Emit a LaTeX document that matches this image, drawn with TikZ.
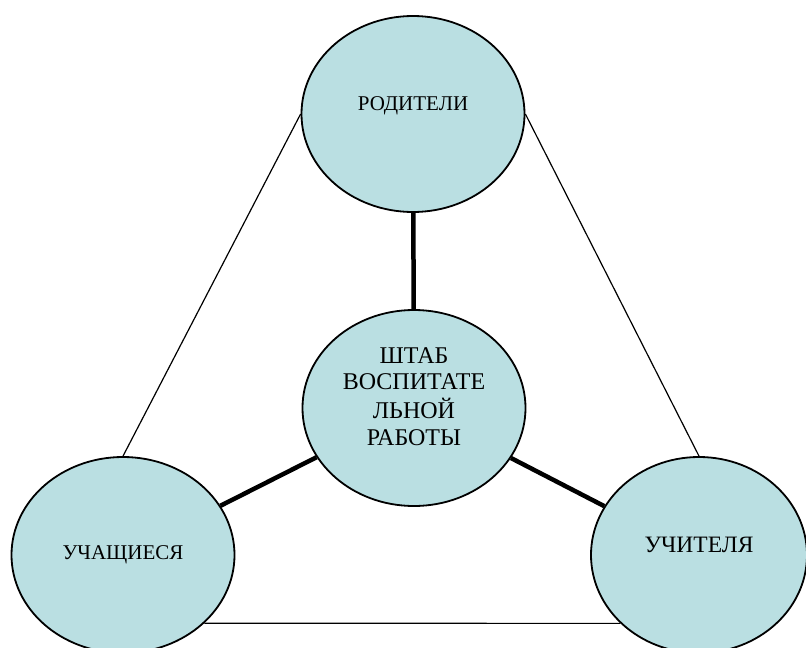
\documentclass[tikz,border=0pt]{standalone}
\usepackage{fontspec}
\setmainfont{Liberation Serif}
\usepackage{tikz}
\usetikzlibrary{shapes.geometric}
\definecolor{circfill}{RGB}{186,223,226}

\begin{document}
\begin{tikzpicture}[x=1pt,y=-1pt,
  circ/.style={ellipse,draw,line width=1.8pt,fill=circfill,inner sep=0pt,
    minimum width=223pt,minimum height=196pt,font=\fontsize{21}{26}\selectfont,align=center},
  thin/.style={line width=1.2pt},
  thick/.style={line width=4.5pt}]
\useasboundingbox (0,0) rectangle (806,648);
\node[circ] (parents) at (413,114) {\raisebox{20pt}{РОДИТЕЛИ}};
\node[circ,font=\fontsize{24}{26.8}\selectfont] (staff) at (414,408)
  {\smash{\raisebox{3pt}{\begin{tabular}{@{}c@{}}ШТАБ\\ВОСПИТАТЕ\\ЛЬНОЙ\\РАБОТЫ\end{tabular}}}};
\node[circ] (pupils) at (123,555) {УЧАЩИЕСЯ};
\node[circ,minimum width=216pt,font=\fontsize{23.5}{26}\selectfont] (teachers) at (699,555) {\raisebox{20pt}{УЧИТЕЛЯ}};
% links
\draw[thin] (parents.west) -- (pupils.north);
\draw[thin] (parents.east) -- (teachers.north);
\draw[thin] (pupils.-40) -- (teachers.-139);
\draw[thick] (parents) -- (staff);
\draw[thick] (staff) -- (pupils);
\draw[thick] (staff) -- (teachers);
\end{tikzpicture}
\end{document}
